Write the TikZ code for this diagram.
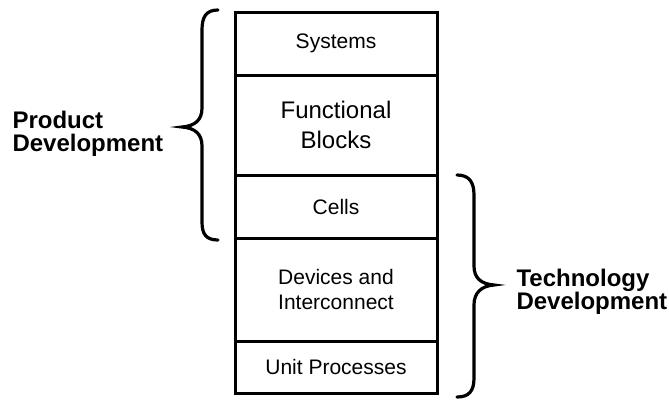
\documentclass[tikz,border=0pt]{standalone}
\usepackage{fontspec}
\setmainfont{Liberation Sans}
\begin{document}
\begin{tikzpicture}[x=1pt, y=-1pt,
		layer/.style = {rectangle, draw, line width=3pt, minimum width=202pt, inner sep=0pt, align=center, font=\fontsize{21}{25}\selectfont},
		side/.style = {align=left, font=\fontsize{24}{23}\selectfont\bfseries},
		brace/.style = {line width=3.2pt, line cap=round}]
		\useasboundingbox (0,0) rectangle (669,399);
		% the stack of levels
		\node (sys) at (336,43.5) [layer, minimum height=63pt] {Systems};
		\node (fb) at (336,125) [layer, minimum height=100pt, font=\fontsize{24}{30}\selectfont] {Functional\\Blocks};
		\node (cells) at (336,206.5) [layer, minimum height=63pt] {Cells};
		\node (dev) at (336,289.5) [layer, minimum height=103pt] {Devices and\\Interconnect};
		\node (unit) at (336,367) [layer, minimum height=52pt] {Unit Processes};
		% braces
		\draw [brace] (218,10) .. controls (206,10) and (202,17) .. (202,30) -- (202,108)
			.. controls (202,120) and (195,126) .. (182,127)
			.. controls (195,128) and (202,134) .. (202,146) -- (202,222)
			.. controls (202,234) and (206,240) .. (218,240);
		\draw [brace] (457,175) .. controls (469,175) and (474,182) .. (474,195) -- (474,266)
			.. controls (474,278) and (481,284) .. (494,285)
			.. controls (481,286) and (474,293) .. (474,305) -- (474,378)
			.. controls (474,391) and (469,397) .. (457,397);
		% labels
		\node (prod) at (9,134) [side, anchor=west] {Product\\Development};
		\node (tech) at (513,292) [side, anchor=west] {Technology\\Development};
	\end{tikzpicture}
\end{document}
